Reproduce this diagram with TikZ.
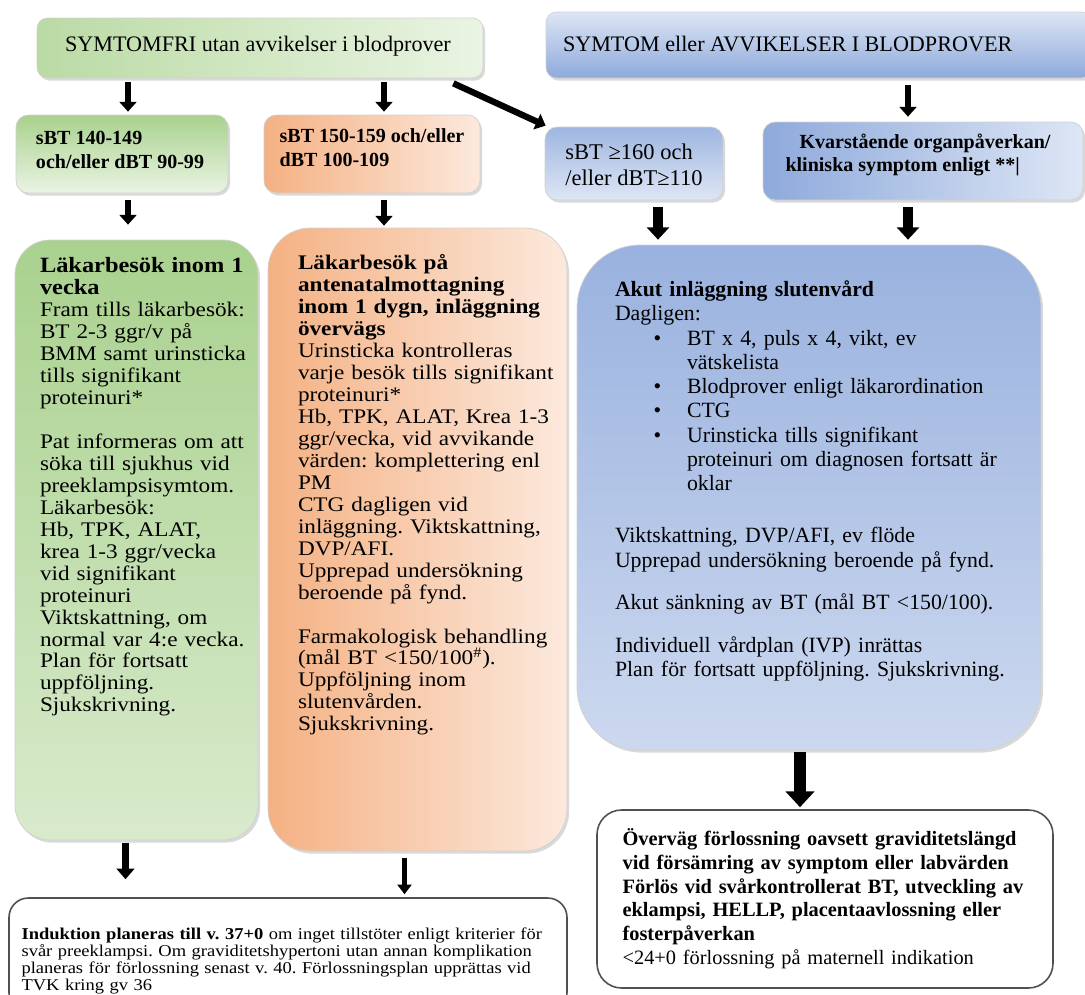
\documentclass[tikz,border=0pt]{standalone}
\usepackage{fontspec}
\setmainfont{Liberation Serif}
\newfontfamily\wideserif{Liberation Serif}[FakeStretch=1.12]
\usetikzlibrary{arrows.meta,fit,calc,shadows}
\frenchspacing

\definecolor{greenmid}{HTML}{A9D18E}
\definecolor{greenpale}{HTML}{EAF4E3}
\definecolor{orangemid}{HTML}{F4B183}
\definecolor{orangepale}{HTML}{FCE9DD}
\definecolor{bluemid}{HTML}{8EA9DB}
\definecolor{bluepale}{HTML}{DDE6F5}
\definecolor{rimgray}{HTML}{505050}

\begin{document}
\begin{tikzpicture}[x=0.02cm, y=-0.02cm,
    colbox/.style={inner sep=0pt, draw=black!18, rounded corners=6pt,
        drop shadow={shadow xshift=1.2pt, shadow yshift=-1.5pt, opacity=0.3}},
    whitebox/.style={inner sep=0pt, draw=rimgray, line width=0.9pt, fill=white},
    titletext/.style={inner sep=0pt, font=\fontsize{12.6pt}{15pt}\selectfont},
    crittext/.style={inner sep=0pt, font=\bfseries\fontsize{11.4pt}{13.5pt}\selectfont, align=left},
    bodytext/.style={inner sep=0pt, anchor=base west, align=left},
    arrs/.style={line width=3.6pt, -{Triangle[width=9.5pt,length=5.5pt]}},
    arrm/.style={line width=5.4pt, -{Triangle[width=12.5pt,length=7pt]}},
    arrl/.style={line width=7.2pt, -{Triangle[width=16pt,length=9pt]}},
    arrg/.style={line width=4.4pt, -{Triangle[width=10pt,length=6pt]}},
    arro/.style={line width=3pt, -{Triangle[width=8pt,length=5.5pt]}}]

    \useasboundingbox (0,0) rectangle (1085,994);

    % Top row
    \node[colbox, left color=greenmid!80!white, right color=greenpale,
        fit={(37,18) (483,78)}] (gtop) {};
    \node[titletext] (gtoplabel) at ($(gtop.center)+(-2,-2)$)
        {SYMTOMFRI utan avvikelser i blodprover};
    \node[colbox, top color=bluepale, bottom color=bluemid,
        fit={(546,12) (1092,78)}] (btop) {};
    \node[titletext, anchor=west] (btoplabel) at ($(btop.west)+(17,-1)$)
        {SYMTOM eller AVVIKELSER I BLODPROVER};

    % Blood pressure levels
    \node[colbox, rounded corners=7pt, top color=greenmid, bottom color=greenpale,
        fit={(16,115) (228,193)}] (sbtA) {};
    \node[crittext] (sbtAlabel) at ($(sbtA.center)+(-2,-4)$) {sBT 140-149\\och/eller dBT 90-99};
    \node[colbox, rounded corners=7pt, left color=orangemid, right color=orangepale,
        fit={(264,115) (480,193)}] (sbtB) {};
    \node[crittext] (sbtBlabel) at ($(sbtB.center)+(0,-6)$) {sBT 150-159 och/eller\\dBT 100-109};
    \node[colbox, rounded corners=7pt, top color=bluemid!85!white, bottom color=bluepale,
        fit={(545,127) (723,200)}] (sbtC) {};
    \node[inner sep=0pt, align=left, font=\fontsize{12.8pt}{14.7pt}\selectfont] (sbtClabel)
        at ($(sbtC.center)+(0,1)$) {sBT ≥160 och\\/eller dBT≥110};
    \node[colbox, rounded corners=7pt, left color=bluemid, right color=bluepale,
        fit={(763,122) (1083,200)}] (kvar) {};
    \node[crittext] (kvarlabel) at ($(kvar.center)+(-5,-6)$)
        {\hspace*{8pt}Kvarstående organpåverkan/\\kliniska symptom enligt **|};

    % Big boxes
    \node[colbox, rounded corners=20pt, top color=greenmid, middle color=greenpale!70!white,
        bottom color=greenmid!45!white, fit={(15,240) (258,840)}] (gbig) {};
    \node[bodytext, text width=5.5cm,
        font=\wideserif\fontsize{11.8pt}{12.5pt}\selectfont] (gbigtext)
        at ($(gbig.north west)+(25,33)$)
        {{\bfseries\fontsize{12.4pt}{12.5pt}\selectfont Läkarbesök inom 1\\vecka}\\
        Fram tills läkarbesök:\\
        BT 2-3 ggr/v på\\
        BMM samt urinsticka\\
        tills signifikant\\
        proteinuri*\\[12.5pt]
        Pat informeras om att\\
        söka till sjukhus vid\\
        preeklampsisymtom.\\
        Läkarbesök:\\
        Hb, TPK, ALAT,\\
        krea 1-3 ggr/vecka\\
        vid signifikant\\
        proteinuri\\
        Viktskattning, om\\
        normal var 4:e vecka.\\
        Plan för fortsatt\\
        uppföljning.\\
        Sjukskrivning.};

    \node[colbox, rounded corners=24pt, left color=orangemid, right color=orangepale,
        fit={(268,228) (567,851)}] (obig) {};
    \node[bodytext, text width=6.5cm,
        font=\wideserif\fontsize{11.8pt}{12.5pt}\selectfont] (obigtext)
        at ($(obig.north west)+(30,42)$)
        {\textbf{Läkarbesök på}\\
        \textbf{antenatalmottagning}\\
        \textbf{inom 1 dygn, inläggning}\\
        \textbf{övervägs}\\
        Urinsticka kontrolleras\\
        varje besök tills signifikant\\
        proteinuri*\\
        Hb, TPK, ALAT, Krea 1-3\\
        ggr/vecka, vid avvikande\\
        värden: komplettering enl\\
        PM\\
        CTG dagligen vid\\
        inläggning. Viktskattning,\\
        DVP/AFI.\\
        Upprepad undersökning\\
        beroende på fynd.\\[12.5pt]
        Farmakologisk behandling\\
        (mål BT <150/100\textsuperscript{\#}).\\
        Uppföljning inom\\
        slutenvården.\\
        Sjukskrivning.};

    \node[colbox, rounded corners=36pt, top color=bluemid!90!white, middle color=bluepale!55!white,
        bottom color=bluemid!45!white, fit={(577,245) (1041,750)}] (bbig) {};
    \node[bodytext, text width=9cm,
        font=\fontsize{12.4pt}{13.8pt}\selectfont] (bbigtext)
        at ($(bbig.north west)+(38,52)$)
        {\textbf{Akut inläggning slutenvård}\\
        Dagligen:\\
        \hspace*{22pt}\makebox[19pt][l]{\textbullet}BT x 4, puls x 4, vikt, ev\\
        \hspace*{41pt}vätskelista\\
        \hspace*{22pt}\makebox[19pt][l]{\textbullet}Blodprover enligt läkarordination\\
        \hspace*{22pt}\makebox[19pt][l]{\textbullet}CTG\\
        \hspace*{22pt}\makebox[19pt][l]{\textbullet}Urinsticka tills signifikant\\
        \hspace*{41pt}proteinuri om diagnosen fortsatt är\\
        \hspace*{41pt}oklar\\[16pt]
        Viktskattning, DVP/AFI, ev flöde\\
        Upprepad undersökning beroende på fynd.\\[10pt]
        Akut sänkning av BT (mål BT <150/100).\\[11pt]
        Individuell vårdplan (IVP) inrättas\\
        Plan för fortsatt uppföljning. Sjukskrivning.};

    % Bottom boxes
    \node[whitebox, rounded corners=11pt, fit={(9,898) (567,1012)}] (bl) {};
    \node[bodytext, text width=11.5cm,
        font=\wideserif\fontsize{9.4pt}{9.7pt}\selectfont] (bltext)
        at ($(bl.north west)+(13,42)$)
        {\textbf{Induktion planeras till v. 37+0} om inget tillstöter enligt kriterier för\\
        svår preeklampsi. Om graviditetshypertoni utan annan komplikation\\
        planeras för förlossning senast v. 40. Förlossningsplan upprättas vid\\
        TVK kring gv 36};

    \node[whitebox, rounded corners=14pt, fit={(597,810) (1053,988)}] (br) {};
    \node[bodytext, text width=9.5cm,
        font=\fontsize{11.6pt}{13.6pt}\selectfont] (brtext)
        at ($(br.north west)+(26,36)$)
        {\textbf{Överväg förlossning oavsett graviditetslängd}\\
        \textbf{vid försämring av symptom eller labvärden}\\
        \textbf{Förlös vid svårkontrollerat BT, utveckling av}\\
        \textbf{eklampsi, HELLP, placentaavlossning eller}\\
        \textbf{fosterpåverkan}\\
        <24+0 förlossning på maternell indikation};

    % Arrows
    \draw[arrs] ($(gtop.south -| sbtA.north)+(6,4)$) -- ($(sbtA.north)+(6,-3)$);
    \draw[arrs] ($(gtop.south -| sbtB.north)+(12,4)$) -- ($(sbtB.north)+(12,-3)$);
    \draw[arrs] ($(gtop.south east)+(-30,5)$) -- ($(sbtC.north west)+(1,-1)$);
    \draw[arrs] ($(btop.south -| kvar.north)+(-15,7)$) -- ($(kvar.north)+(-15,-5)$);
    \draw[arrs] ($(sbtA.south)+(6,7)$) -- ($(gbig.north -| sbtA.south)+(6,-15)$);
    \draw[arrs] ($(sbtB.south)+(12,7)$) -- ($(obig.north -| sbtB.south)+(12,-2)$);
    \draw[arrm] ($(sbtC.south)+(24,7)$) -- ($(bbig.north -| sbtC.south)+(24,-5)$);
    \draw[arrm] ($(kvar.south)+(-15,7)$) -- ($(bbig.north -| kvar.south)+(-15,-5)$);
    \draw[arrg] ($(gbig.south)+(-11,3)$) -- ($(bl.north -| gbig.south)+(-11,-18)$);
    \draw[arro] ($(obig.south)+(-13,7)$) -- ($(bl.north -| obig.south)+(-13,-3)$);
    \draw[arrl] ($(bbig.south)+(-9,2)$) -- ($(br.north -| bbig.south)+(-9,-2)$);
\end{tikzpicture}
\end{document}
